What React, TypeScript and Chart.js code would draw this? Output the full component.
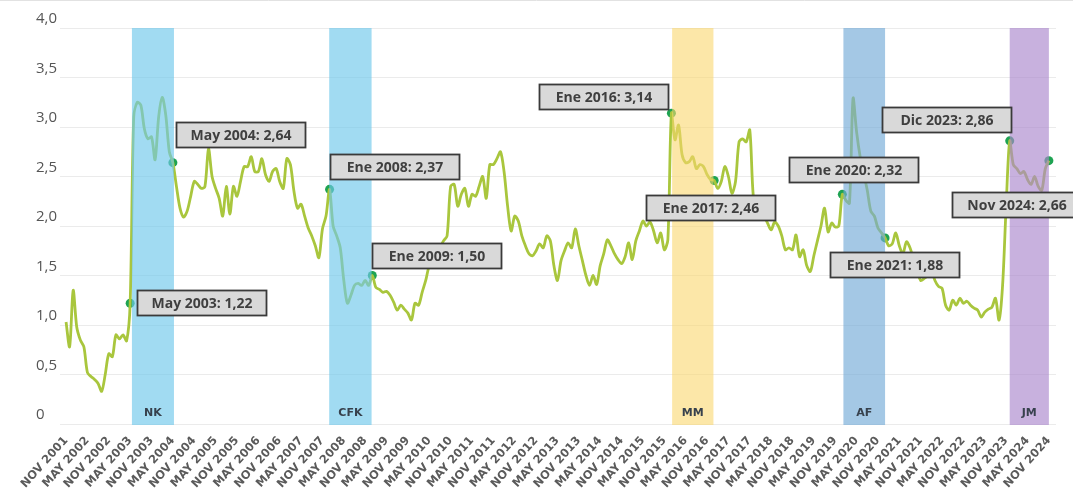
import React, { useEffect, useRef } from "react";
import { Chart, registerables } from "chart.js";

Chart.register(...registerables);

// Monthly series, Nov 2001 .. Nov 2024 (277 months)
const values: number[] = [
  1.03, 0.78, 1.35, 0.98, 0.85, 0.78, 0.52, 0.48, 0.45, 0.41, 0.33, 0.5,
  0.71, 0.68, 0.9, 0.86, 0.9, 0.84, 1.22, 3.1, 3.25, 3.22, 2.98, 2.88,
  2.9, 2.67, 3.1, 3.3, 3.12, 2.75, 2.64, 2.4, 2.18, 2.09, 2.15, 2.3,
  2.45, 2.42, 2.38, 2.4, 2.78, 2.5, 2.38, 2.28, 2.1, 2.4, 2.12, 2.4,
  2.3, 2.45, 2.6, 2.6, 2.7, 2.55, 2.55, 2.68, 2.52, 2.45, 2.55, 2.58,
  2.45, 2.38, 2.68, 2.62, 2.35, 2.18, 2.22, 2.1, 1.98, 1.9, 1.8, 1.68,
  1.97, 2.1, 2.37, 2.0, 1.9, 1.78, 1.45, 1.22, 1.3, 1.4, 1.42, 1.4,
  1.45, 1.4, 1.5, 1.38, 1.36, 1.33, 1.34, 1.3, 1.23, 1.15, 1.2, 1.16,
  1.12, 1.05, 1.22, 1.2, 1.33, 1.45, 1.6, 1.65, 1.72, 1.78, 1.85, 1.9,
  2.4, 2.42, 2.2, 2.32, 2.38, 2.2, 2.32, 2.3, 2.4, 2.5, 2.28, 2.62,
  2.62, 2.68, 2.75, 2.55, 2.2, 1.95, 2.1, 2.05, 1.9, 1.8, 1.72, 1.7,
  1.75, 1.82, 1.78, 1.9, 1.85, 1.6, 1.45, 1.65, 1.75, 1.83, 1.78, 1.97,
  1.8, 1.65, 1.5, 1.4, 1.5, 1.41, 1.6, 1.72, 1.86, 1.8, 1.72, 1.66,
  1.62, 1.69, 1.83, 1.66, 1.85, 1.95, 2.05, 2.0, 2.04, 1.95, 1.83, 1.93,
  1.76, 1.86, 3.14, 2.87, 3.02, 2.72, 2.64, 2.65, 2.7, 2.58, 2.62, 2.6,
  2.52, 2.47, 2.46, 2.38, 2.45, 2.6, 2.5, 2.33, 2.45, 2.85, 2.88, 2.85,
  2.97, 2.3, 2.2, 2.15, 2.1, 2.03, 1.96, 2.04, 2.0, 1.9, 1.76, 1.78,
  1.76, 1.91, 1.69, 1.76, 1.6, 1.54, 1.7, 1.85, 2.0, 2.18, 1.94, 2.03,
  1.99, 2.0, 2.32, 2.26, 2.23, 3.29, 2.95, 2.7, 2.53, 2.36, 2.15, 2.1,
  1.98, 1.93, 1.88, 1.8, 1.82, 1.93, 1.8, 1.72, 1.84, 1.78, 1.66, 1.55,
  1.45, 1.47, 1.5, 1.55, 1.45, 1.39, 1.37, 1.2, 1.15, 1.25, 1.2, 1.27,
  1.22, 1.24, 1.2, 1.17, 1.15, 1.08, 1.13, 1.16, 1.18, 1.27, 1.05, 1.4,
  2.2, 2.86, 2.62, 2.58, 2.53, 2.55, 2.47, 2.42, 2.5, 2.4, 2.36, 2.58,
  2.66,
];

// X tick labels, one every 6 months
const tickLabels: string[] = [
  "NOV 2001", "MAY 2002", "NOV 2002", "MAY 2003", "NOV 2003", "MAY 2004",
  "NOV 2004", "MAY 2005", "NOV 2005", "MAY 2006", "NOV 2006", "MAY 2007",
  "NOV 2007", "MAY 2008", "NOV 2008", "MAY 2009", "NOV 2009", "MAY 2010",
  "NOV 2010", "MAY 2011", "NOV 2011", "MAY 2012", "NOV 2012", "MAY 2013",
  "NOV 2013", "MAY 2014", "NOV 2014", "MAY 2015", "NOV 2015", "MAY 2016",
  "NOV 2016", "MAY 2017", "NOV 2017", "MAY 2018", "NOV 2018", "MAY 2019",
  "NOV 2019", "MAY 2020", "NOV 2020", "MAY 2021", "NOV 2021", "MAY 2022",
  "NOV 2022", "MAY 2023", "NOV 2023", "MAY 2024", "NOV 2024",
];

// Highlighted months (index into values) and their label text
const highlightIndex: number[] = [18, 30, 74, 86, 170, 182, 218, 230, 265, 276];
const highlightText: string[] = [
  "May 2003", "May 2004", "Ene 2008", "Ene 2009", "Ene 2016",
  "Ene 2017", "Ene 2020", "Ene 2021", "Dic 2023", "Nov 2024",
];

// Shaded periods (month index range)
const bandLabels: string[] = ["NK", "CFK", "MM", "AF", "JM"];
const bandStart: number[] = [18.5, 73.9, 170.2, 218.3, 265];
const bandEnd: number[] = [30.3, 85.8, 181.8, 230, 276];

// ---- styling / layout (not data) ----
const bandColors = [
  "rgba(110,200,235,0.65)",
  "rgba(110,200,235,0.65)",
  "rgba(250,215,110,0.6)",
  "rgba(115,170,215,0.65)",
  "rgba(170,135,205,0.65)",
];
const boxOffsets: [number, number][] = [
  [7, -13], [3, -41], [0, -35], [0, -33], [-132, -29],
  [-68, 15], [-53, -37], [-55, 14], [-128, -34], [-97, 31],
];

const fmt = (v: number) => v.toFixed(2).replace(".", ",");

const overlayPlugin = {
  id: "overlay",
  afterDatasetDraw(chart: any, args: any) {
    if (args.index !== 0) return;
    const { ctx, chartArea } = chart;
    const xs = chart.scales.x;
    const ys = chart.scales.y;
    ctx.save();
    const top = ys.getPixelForValue(4);
    const bottom = chartArea.bottom + 1;
    bandLabels.forEach((lab, k) => {
      const x0 = xs.getPixelForValue(bandStart[k]);
      const x1 = xs.getPixelForValue(bandEnd[k]);
      ctx.fillStyle = bandColors[k];
      ctx.fillRect(x0, top, x1 - x0, bottom - top);
      ctx.fillStyle = "#37414d";
      ctx.font = 'bold 11px "DejaVu Sans"';
      ctx.textAlign = "center";
      ctx.textBaseline = "middle";
      ctx.fillText(lab, (x0 + x1) / 2, 413);
    });
    ctx.restore();
  },
  afterDraw(chart: any) {
    const { ctx } = chart;
    const xs = chart.scales.x;
    const ys = chart.scales.y;
    ctx.save();
    ctx.strokeStyle = "#e2e2e2";
    ctx.lineWidth = 1;
    ctx.beginPath();
    ctx.moveTo(0, 0.5);
    ctx.lineTo(chart.width, 0.5);
    ctx.stroke();
    highlightIndex.forEach((idx, k) => {
      const px = xs.getPixelForValue(idx);
      const py = ys.getPixelForValue(values[idx]);
      const [dx, dy] = boxOffsets[k];
      const left = Math.round(px + dx) + 0.5;
      const top = Math.round(py + dy) + 0.5;
      const w = 129;
      const h = 25;
      ctx.fillStyle = "#d9d9d9";
      ctx.fillRect(left, top, w, h);
      ctx.strokeStyle = "#3a3a3a";
      ctx.lineWidth = 1.8;
      ctx.strokeRect(left, top, w, h);
      ctx.fillStyle = "#3f3f3f";
      ctx.font = 'bold 14px "Open Sans"';
      ctx.textAlign = "center";
      ctx.textBaseline = "middle";
      ctx.fillText(`${highlightText[k]}: ${fmt(values[idx])}`, left + w / 2, top + h / 2 + 1);
    });
    ctx.restore();
  },
};

export default function App() {
  const ref = useRef<HTMLCanvasElement | null>(null);
  useEffect(() => {
    if (!ref.current) return;
    const chart = new Chart(ref.current, {
      type: "line",
      data: {
        datasets: [
          {
            data: values.map((v, i) => ({ x: i, y: v })),
            borderColor: "#a9c63d",
            borderWidth: 2.8,
            pointRadius: 0,
            tension: 0.3,
          },
          {
            data: highlightIndex.map((i) => ({ x: i, y: values[i] })),
            showLine: false,
            pointRadius: 4.5,
            pointBackgroundColor: "#1ea352",
            pointBorderWidth: 0,
            clip: false as any,
          },
        ],
      },
      options: {
        responsive: false,
        animation: false,
        events: [],
        layout: { padding: { left: 36, top: 28, right: 17, bottom: 0 } },
        plugins: { legend: { display: false }, tooltip: { enabled: false } },
        scales: {
          x: {
            type: "linear",
            min: -1.7,
            max: 278,
            grid: { display: false },
            border: { display: false },
            afterBuildTicks: (scale: any) => {
              scale.ticks = tickLabels.map((_, k) => ({ value: k * 6 }));
            },
            afterFit: (scale: any) => {
              scale.height = 72;
            },
            ticks: {
              autoSkip: false,
              minRotation: 48,
              maxRotation: 48,
              padding: 2,
              color: "#5a5a5a",
              font: { family: "DejaVu Sans", size: 11.5, weight: "bold" },
              callback: (v: any) => tickLabels[Math.round(v / 6)] ?? "",
            },
          },
          y: {
            min: 0,
            max: 4,
            grid: { color: "#ebebeb", drawTicks: false },
            border: { display: false },
            afterFit: (scale: any) => {
              scale.width = 24;
            },
            ticks: {
              stepSize: 0.5,
              crossAlign: "far",
              labelOffset: -9,
              padding: 0,
              color: "#555555",
              font: { family: "Open Sans", size: 15 },
              callback: (v: any) => (v === 0 ? "0" : Number(v).toFixed(1).replace(".", ",")),
            },
          },
        },
      },
      plugins: [overlayPlugin],
    });
    return () => chart.destroy();
  }, []);
  return (
    <div style={{ position: "absolute", left: 0, top: 0, width: 1073, height: 496, background: "#fff" }}>
      <canvas ref={ref} width={1073} height={496} style={{ display: "block" }} />
    </div>
  );
}
